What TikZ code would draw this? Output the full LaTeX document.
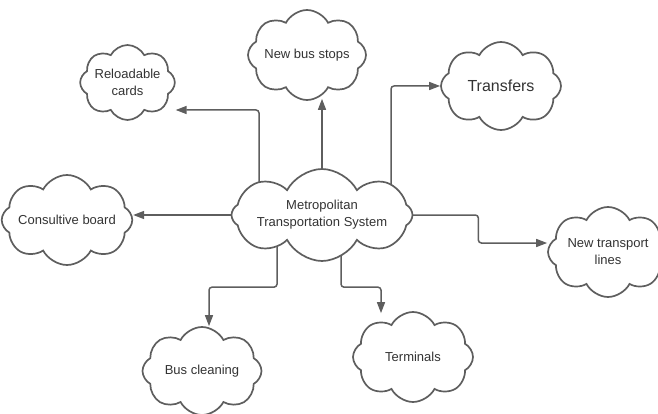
\documentclass[tikz,border=0pt]{standalone}
\usepackage{fontspec}
\setmainfont{Liberation Sans}
\usetikzlibrary{shapes.symbols,arrows.meta,backgrounds}
\definecolor{edge}{HTML}{5E5E5E}
\definecolor{ink}{HTML}{333333}
\tikzset{
  idea/.style={cloud, cloud puffs=8, cloud puff arc=125, cloud ignores aspect,
    draw=edge, line width=1.7pt, fill=white, text=ink, align=center,
    font=\fontsize{13}{17}\selectfont, inner sep=0pt,
    minimum width=#1},
  idea/.default=120pt,
  conn/.style={draw=edge, line width=1.5pt, rounded corners=3pt,
    -{Triangle[length=11pt,width=8pt]}},
}
\begin{document}
\begin{tikzpicture}[x=1pt,y=1pt]
  \useasboundingbox (0,0) rectangle (658,413);
  \clip (0,0) rectangle (658,413);

  % topic clouds
  \node[idea=181pt, minimum height=92pt] (main) at (322,198)
    {Metropolitan\\Transportation System};
  \node[idea=91pt, minimum height=75pt] (cards) at (127.5,330.5) {Reloadable\\cards};
  \node[idea=118pt, minimum height=90pt] (stops) at (307,358) {New bus stops};
  \node[idea=120pt, minimum height=88pt, font=\fontsize{16}{19}\selectfont]
    (transfers) at (501,327) {Transfers};
  \node[idea=120pt, minimum height=90pt] (board) at (67,193) {Consultive board};
  \node[idea=119pt, minimum height=88pt] (cleaning) at (202,42) {Bus cleaning};
  \node[idea=120pt, minimum height=90pt] (terminals) at (413,56) {Terminals};
  \node[idea=120pt, minimum height=90pt] (lines) at (608,161) {New transport\\lines};

  % connectors run behind the clouds
  \begin{scope}[on background layer]
    \draw[conn] ([xshift=-63pt]main.center) |- ([yshift=-27.5pt]cards.east);
    \draw[conn] (main.center) -- ([yshift=2pt]main.center |- stops.south);
    \draw[conn] ([xshift=69pt]main.center) |- (transfers.west);
    \draw[conn] (main.center) -- (main.center -| board.east);
    \draw[conn] (main.center) -- ([xshift=65pt]main.east) |- ([yshift=9pt]lines.west);
    \draw[conn] ([xshift=-45pt]main.center) |- ([shift={(7pt,39pt)}]cleaning.north)
      -- ([xshift=7pt]cleaning.north);
    \draw[conn] ([xshift=19pt]main.center) |- ([shift={(-32pt,24pt)}]terminals.north)
      -- ([shift={(-32pt,-2pt)}]terminals.north);
  \end{scope}
\end{tikzpicture}
\end{document}
